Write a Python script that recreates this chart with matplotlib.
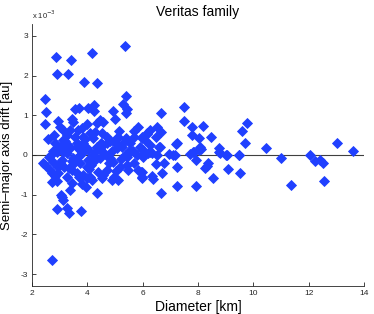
import numpy as np
import matplotlib
matplotlib.use("Agg")
import matplotlib.pyplot as plt

plt.rcParams['font.family'] = ['Liberation Sans', 'DejaVu Sans']

# Diameter [km] and semi-major axis drift [1e-3 au]
diameter = [
    2.48, 2.49, 2.48, 2.88, 2.91, 3.40, 3.31, 4.16, 3.87, 4.34, 5.36, 5.40, 5.30, 5.44, 5.39,
    3.57, 3.70, 4.01, 4.23, 4.23, 4.92, 5.00, 2.94, 2.59, 2.81, 2.84, 3.43, 3.49, 3.98, 3.80,
    4.46, 4.55, 4.34, 5.14, 5.70, 5.84, 5.69, 5.96, 6.17, 5.04, 5.40,
    6.66, 7.48, 7.48, 7.77, 8.17, 7.77, 8.02, 8.47, 9.60, 9.78, 9.70, 7.20, 8.07, 8.05, 8.77,
    8.75, 9.01, 9.47, 7.87, 7.71, 5.96, 6.17, 6.27, 6.48, 6.53, 6.67, 6.27, 6.60, 6.27, 6.51,
    6.96, 7.11, 6.00,
    6.00, 6.33, 6.48, 6.78, 6.71, 6.33, 6.38, 5.96, 5.93, 6.66, 7.23, 7.25, 7.17, 7.83, 7.93,
    7.92, 8.11, 8.25, 8.31, 8.37, 8.55, 8.79, 9.04, 9.10, 9.49, 9.52, 7.23, 6.63,
    10.45, 10.99, 11.35, 12.06, 12.23, 12.41, 12.51, 12.57, 13.04, 13.60,
    2.71, 2.89, 3.25, 3.33, 3.78, 3.07, 3.11, 3.04, 3.37, 4.36, 3.95, 3.80, 3.43, 2.71, 2.89,
    2.47, 2.39, 2.65, 2.71, 2.83, 2.95, 2.77, 3.07, 3.25, 3.35, 3.43, 3.61, 3.71, 3.85, 3.98,
    4.10, 4.16, 4.40, 4.52, 4.58, 4.70, 4.88, 4.96, 5.12, 5.18, 5.42, 5.48, 4.94, 4.82, 4.46,
    4.22, 4.04, 3.73, 3.49, 3.25, 3.13, 2.89, 3.61, 3.85, 4.04, 4.34, 4.70, 5.06, 5.30, 5.54,
    5.78, 5.96, 5.96, 6.02, 6.20, 5.84,
    3.01, 3.13, 3.25, 3.13, 3.37, 3.67, 3.55, 3.61, 3.85, 4.10, 4.22, 4.28, 4.52, 4.70, 4.82,
    4.58, 4.34, 3.98, 3.73, 3.37, 3.13, 3.01, 5.00, 5.24, 5.54, 5.90, 6.08,
    2.60, 2.75, 2.95, 3.20, 3.50, 3.80, 4.05, 4.30, 4.60, 4.90, 5.20, 5.50, 5.70,
    2.70, 3.00, 3.30, 3.60, 3.90, 4.15, 4.45, 4.75, 5.05, 5.35, 5.65,
    3.15, 3.45, 3.75, 4.00, 4.25, 4.50, 4.80, 5.10, 5.45,
]
drift = [
    1.41, 1.08, 0.77, 2.46, 2.04, 2.39, 2.04, 2.58, 1.84, 1.81, 2.74, 1.49, 1.28, 1.15, 1.07,
    1.16, 1.18, 1.19, 1.27, 1.12, 1.12, 0.91, 0.86, 0.41, 0.50, 0.29, 0.90, 0.83, 0.78, 0.67,
    0.88, 0.84, 0.80, 0.60, 0.61, 0.70, 0.45, 0.45, 0.55, 0.40, 0.42,
    1.07, 1.22, 0.86, 0.71, 0.73, 0.51, 0.42, 0.46, 0.60, 0.80, 0.29, 0.28, 0.21, 0.13, 0.17,
    0.08, 0.01, 0.01, 0.07, 0.02, 0.42, 0.53, 0.63, 0.45, 0.70, 0.59, 0.25, 0.19, 0.08, 0.00,
    0.03, 0.00, 0.01,
    -0.06, 0.04, -0.23, -0.19, -0.46, -0.53, -0.60, -0.59, -0.42, -0.95, -0.29, -0.78, 0.00, 0.08, -0.13,
    -0.78, 0.14, -0.34, -0.28, -0.21, -0.59, 0.04, 0.00, -0.36, 0.00, -0.45, 0.29, 0.21,
    0.18, -0.08, -0.75, 0.00, -0.14, -0.13, -0.19, -0.66, 0.29, 0.11,
    -2.64, -1.37, -1.34, -1.47, -1.42, -1.05, -1.13, -1.01, -0.88, -0.95, -0.80, -0.73, -0.71, -0.67, -0.65,
    -0.25, -0.21, -0.38, -0.46, -0.53, -0.46, -0.17, -0.13, -0.55, -0.34, -0.38, -0.46, -0.55, -0.50, -0.59,
    -0.55, -0.63, -0.42, -0.59, -0.50, -0.38, -0.63, -0.55, -0.63, -0.29, -0.25, -0.38, -0.17, -0.08, -0.08,
    0.00, -0.13, -0.21, -0.08, 0.04, 0.21, 0.08, 0.21, 0.29, 0.13, 0.21, 0.29, 0.17, 0.29, 0.13,
    0.00, -0.55, -0.42, 0.13, 0.04, -0.38,
    0.71, 0.63, 0.50, 0.38, 0.63, 0.63, 0.46, 0.29, 0.46, 0.55, 0.42, 0.59, 0.55, 0.46, 0.34,
    0.25, 0.21, 0.17, 0.13, 0.17, 0.08, 0.21, 0.29, 0.21, 0.29, 0.21, 0.38,
    -0.05, 0.10, -0.30, 0.35, -0.20, 0.05, -0.35, 0.10, 0.05, 0.10, -0.10, 0.05, -0.20,
    0.00, -0.20, 0.25, -0.10, 0.40, -0.25, 0.15, -0.05, -0.40, 0.00, 0.10,
    -0.30, -0.15, 0.00, -0.30, -0.15, 0.30, -0.20, 0.45, -0.05,
]

x_ticks = [2, 4, 6, 8, 10, 12, 14]
y_ticks = [-3, -2, -1, 0, 1, 2, 3]

fig = plt.figure(figsize=(3.74, 3.14), dpi=100)
ax = fig.add_axes([0.0856, 0.0892, 0.8874, 0.8344])

ax.axhline(0, color='#404040', linewidth=0.8, zorder=1)
ax.plot(diameter, drift, linestyle='none', marker='D', markersize=4.8,
        markerfacecolor='#2040ff', markeredgecolor='#2040ff', markeredgewidth=0.6, zorder=2)

ax.set_xlim(2, 14)
ax.set_ylim(-3.3, 3.3)
ax.set_xticks(x_ticks)
ax.set_yticks(y_ticks)
ax.set_xticklabels([str(t) for t in x_ticks])
ax.set_yticklabels([str(t).replace('\u2212', '-') for t in y_ticks])
ax.tick_params(direction='in', length=3, width=0.6, labelsize=6, colors='#262626', pad=3)
for s in ['top', 'right']:
    ax.spines[s].set_visible(False)
for s in ['left', 'bottom']:
    ax.spines[s].set_linewidth(0.6)
    ax.spines[s].set_color('#262626')

ax.set_xlabel('Diameter [km]', fontsize=10, labelpad=2)
ax.set_ylabel('Semi\u2013major axis drift [au]', fontsize=9.5, labelpad=5)
ax.set_title('Veritas family', fontsize=10, pad=6)
ax.text(0.0, 1.01, r'x 10$^{-3}$', transform=ax.transAxes, fontsize=5.5,
        ha='left', va='bottom', color='#262626')

fig.savefig('out.png', dpi=100)
